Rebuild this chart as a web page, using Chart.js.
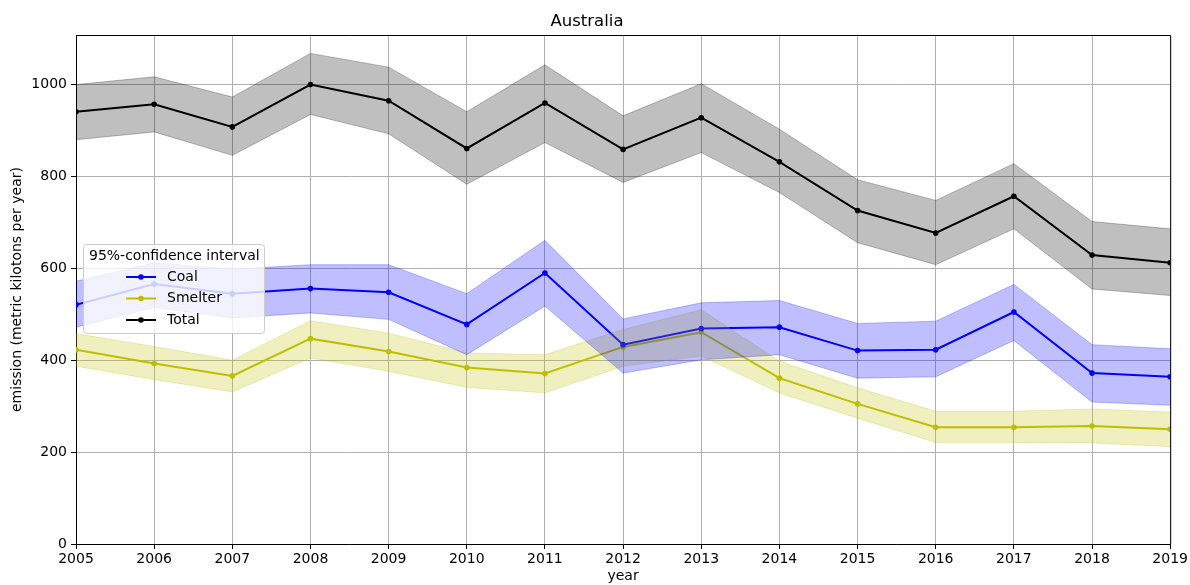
<!DOCTYPE html>
<html>
<head>
<meta charset="utf-8">
<script src="https://cdn.jsdelivr.net/npm/chart.js@4/dist/chart.umd.min.js"></script>
<style>
  html, body { margin: 0; padding: 0; background: #fff; }
  #wrap { width: 1190px; height: 585px; }
</style>
</head>
<body>
<div id="wrap"><canvas id="chart"></canvas></div>
<script>
// values (metric kilotons per year)
const years = [2005, 2006, 2007, 2008, 2009, 2010, 2011, 2012, 2013, 2014, 2015, 2016, 2017, 2018, 2019];

const coal      = [521, 566, 545, 556, 548, 478, 590, 434, 469, 472, 421, 423, 505, 372, 364];
const coalHigh  = [572, 612, 598, 608, 608, 545, 661, 490, 525, 530, 480, 485, 565, 434, 425];
const coalLow   = [472, 515, 492, 503, 489, 412, 518, 372, 401, 412, 361, 364, 443, 309, 302];

const smelter     = [423, 393, 366, 447, 419, 384, 371, 429, 461, 361, 305, 254, 254, 257, 250];
const smelterHigh = [458, 430, 400, 486, 459, 416, 412, 467, 510, 398, 340, 289, 289, 294, 287];
const smelterLow  = [387, 358, 331, 405, 376, 341, 329, 387, 409, 329, 274, 221, 221, 220, 212];

const total     = [941, 957, 908, 1000, 965, 861, 960, 859, 928, 832, 726, 677, 757, 629, 612];
const totalHigh = [1000, 1017, 973, 1068, 1038, 941, 1043, 932, 1002, 903, 793, 748, 828, 702, 686];
const totalLow  = [880, 897, 846, 935, 893, 783, 874, 787, 852, 765, 656, 608, 686, 555, 541];

const yTicks = [0, 200, 400, 600, 800, 1000];

const pts = vals => vals.map((v, i) => ({ x: years[i], y: v }));

function band(vals, fill, edge, toNext) {
  return {
    data: pts(vals),
    borderColor: edge,
    borderWidth: 1,
    backgroundColor: fill,
    pointRadius: 0,
    fill: toNext ? '+1' : false,
    isBand: true
  };
}

function line(label, vals, color) {
  return {
    label: label,
    data: pts(vals),
    borderColor: color,
    backgroundColor: color,
    borderWidth: 2,
    pointRadius: 2.8,
    pointBorderWidth: 0,
    fill: false
  };
}

const font = { family: 'DejaVu Sans', size: 14 };

// top/right spines and the legend sitting inside the plot
const frame = {
  id: 'frame',
  afterDraw(chart) {
    const ctx = chart.ctx, a = chart.chartArea;
    ctx.save();
    ctx.strokeStyle = '#000';
    ctx.lineWidth = 1;
    ctx.beginPath();
    ctx.moveTo(a.left, a.top + 0.5);
    ctx.lineTo(a.right + 0.5, a.top + 0.5);
    ctx.lineTo(a.right + 0.5, a.bottom);
    ctx.stroke();

    // legend
    const x0 = a.left + 7, y0 = a.top + 209, w = 181, h = 89;
    ctx.beginPath();
    ctx.roundRect(x0 + 0.5, y0 + 0.5, w, h, 3);
    ctx.fillStyle = 'rgba(255,255,255,0.8)';
    ctx.fill();
    ctx.strokeStyle = '#cccccc';
    ctx.stroke();

    ctx.font = '14px "DejaVu Sans"';
    ctx.textBaseline = 'middle';
    ctx.fillStyle = '#000';
    ctx.fillText('95%-confidence interval', x0 + 6, y0 + 12);

    const items = chart.data.datasets.filter(d => !d.isBand);
    items.forEach((d, i) => {
      const yy = y0 + 33 + i * 21.5;
      ctx.strokeStyle = d.borderColor;
      ctx.lineWidth = 2;
      ctx.beginPath();
      ctx.moveTo(x0 + 43, yy);
      ctx.lineTo(x0 + 73, yy);
      ctx.stroke();
      ctx.fillStyle = d.borderColor;
      ctx.beginPath();
      ctx.arc(x0 + 58, yy, 2.8, 0, Math.PI * 2);
      ctx.fill();
      ctx.fillStyle = '#000';
      ctx.fillText(d.label, x0 + 84, yy);
    });
    ctx.restore();
  }
};

new Chart(document.getElementById('chart'), {
  type: 'line',
  data: {
    datasets: [
      band(totalHigh, 'rgba(0,0,0,0.25)', 'rgba(0,0,0,0.25)', true),
      band(totalLow, 'rgba(0,0,0,0.25)', 'rgba(0,0,0,0.25)', false),
      band(coalHigh, 'rgba(0,0,255,0.25)', 'rgba(0,0,255,0.25)', true),
      band(coalLow, 'rgba(0,0,255,0.25)', 'rgba(0,0,255,0.25)', false),
      band(smelterHigh, 'rgba(191,191,0,0.25)', 'rgba(191,191,0,0.25)', true),
      band(smelterLow, 'rgba(191,191,0,0.25)', 'rgba(191,191,0,0.25)', false),
      line('Coal', coal, '#0000ff'),
      line('Smelter', smelter, '#bfbf00'),
      line('Total', total, '#000000')
    ]
  },
  options: {
    responsive: true,
    maintainAspectRatio: false,
    animation: false,
    layout: { padding: { left: 2, right: 18, top: 0, bottom: 0 } },
    plugins: {
      legend: { display: false },
      tooltip: { enabled: false },
      title: {
        display: true,
        text: 'Australia',
        color: '#000',
        font: { family: 'DejaVu Sans', size: 16.5, weight: 'normal' },
        padding: { top: 12, bottom: 3.2 }
      }
    },
    scales: {
      x: {
        type: 'linear',
        min: years[0],
        max: years[years.length - 1],
        afterFit: s => { s.height = 41; },
        ticks: {
          stepSize: 1,
          color: '#000',
          font: font,
          padding: 2,
          maxRotation: 0,
          callback: v => String(v)
        },
        grid: { color: '#b0b0b0', lineWidth: 1, tickLength: 5, tickColor: '#000' },
        border: { color: '#000', width: 1 },
        title: { display: true, text: 'year', color: '#000', font: font, padding: { top: 0, bottom: 0 } }
      },
      y: {
        min: 0,
        max: 1108,
        afterFit: s => { s.width = 74; },
        afterBuildTicks: s => { s.ticks = yTicks.map(v => ({ value: v })); },
        ticks: { color: '#000', font: font, padding: 4, includeBounds: false, callback: v => String(v) },
        grid: { color: '#b0b0b0', lineWidth: 1, tickLength: 5, tickColor: '#000' },
        border: { color: '#000', width: 1 },
        title: {
          display: true,
          text: 'emission (metric kilotons per year)',
          color: '#000',
          font: font,
          padding: { top: 7, bottom: 0 }
        }
      }
    }
  },
  plugins: [frame]
});
</script>
</body>
</html>
